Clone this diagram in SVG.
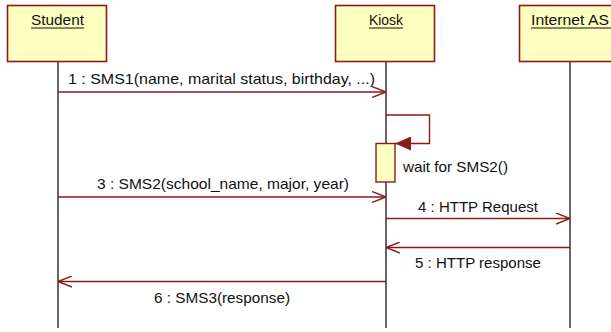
<svg xmlns="http://www.w3.org/2000/svg" width="611" height="332" viewBox="0 0 611 332">
  <style>
    text { font-family: "Liberation Sans", Arial, sans-serif; font-size: 15px; fill: #111; }
    .head { fill: #ffffc0; stroke: #8b1a1a; stroke-width: 1.6; }
    .life { stroke: #333; stroke-width: 1.5; fill: none; }
    .msg { stroke: #8b1a1a; stroke-width: 1.4; fill: none; }
    .uline { stroke: #111; stroke-width: 1; }
    .act { fill: #ffffc0; stroke: #8b1a1a; stroke-width: 1.4; }
  </style>
  <defs>
    <marker id="open" viewBox="0 0 14 12" refX="14" refY="6" markerWidth="14" markerHeight="12" markerUnits="userSpaceOnUse" orient="auto">
      <path d="M0,0.5 L14,6 L0,11.5" fill="none" stroke="#8b1a1a" stroke-width="1.4"/>
    </marker>
    <marker id="filled" viewBox="0 0 16 14" refX="16" refY="7" markerWidth="16" markerHeight="14" markerUnits="userSpaceOnUse" orient="auto">
      <path d="M0,0 L16,7 L0,14 Z" fill="#8b1a1a"/>
    </marker>
  </defs>

  <!-- lifelines -->
  <g id="lifelines">
    <line class="life" x1="58" y1="62" x2="58" y2="328"/>
    <line class="life" x1="386" y1="62" x2="386" y2="328"/>
    <line class="life" x1="570" y1="62" x2="570" y2="328"/>
  </g>

  <g id="student">
    <rect class="head" x="7.5" y="5.5" width="99" height="56"/>
    <text x="31" y="25" textLength="53" lengthAdjust="spacingAndGlyphs">Student</text>
    <line class="uline" x1="31" y1="28" x2="84" y2="28"/>
  </g>

  <g id="kiosk">
    <rect class="head" x="335.5" y="5.5" width="99" height="56"/>
    <text x="369" y="25" textLength="34" lengthAdjust="spacingAndGlyphs">Kiosk</text>
    <line class="uline" x1="369" y1="28" x2="403" y2="28"/>
    <rect class="act" x="376" y="143.5" width="19" height="38.5"/>
  </g>

  <g id="internet-as">
    <rect class="head" x="519.5" y="5.5" width="100" height="56"/>
    <text x="531" y="25" textLength="78" lengthAdjust="spacingAndGlyphs">Internet AS</text>
    <line class="uline" x1="531" y1="28" x2="611" y2="28"/>
  </g>

  <!-- messages -->
  <g id="connectors">
    <line class="msg" x1="58" y1="92" x2="386" y2="92" marker-end="url(#open)"/>
    <text x="68" y="84" textLength="307" lengthAdjust="spacingAndGlyphs">1 : SMS1(name, marital status, birthday, ...)</text>

    <polyline class="msg" points="386,115 429.5,115 429.5,143.5 395,143.5" marker-end="url(#filled)"/>
    <text x="403" y="172" textLength="105" lengthAdjust="spacingAndGlyphs">wait for SMS2()</text>

    <line class="msg" x1="58" y1="197" x2="386" y2="197" marker-end="url(#open)"/>
    <text x="97" y="189" textLength="252" lengthAdjust="spacingAndGlyphs">3 : SMS2(school_name, major, year)</text>

    <line class="msg" x1="386" y1="218.5" x2="570" y2="218.5" marker-end="url(#open)"/>
    <text x="418" y="212" textLength="120" lengthAdjust="spacingAndGlyphs">4 : HTTP Request</text>

    <line class="msg" x1="570" y1="247.5" x2="386" y2="247.5" marker-end="url(#open)"/>
    <text x="415" y="268" textLength="126" lengthAdjust="spacingAndGlyphs">5 : HTTP response</text>

    <line class="msg" x1="386" y1="281.5" x2="58" y2="281.5" marker-end="url(#open)"/>
    <text x="154" y="303" textLength="136" lengthAdjust="spacingAndGlyphs">6 : SMS3(response)</text>
  </g>
</svg>
